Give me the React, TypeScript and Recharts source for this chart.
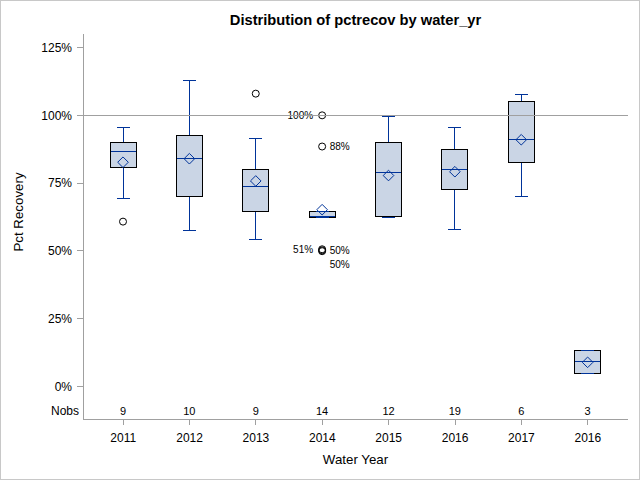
import React from 'react';
import { ComposedChart, Bar, XAxis, YAxis, ReferenceLine } from 'recharts';

// ---- data ----
const categories = ['2011', '2012', '2013', '2014', '2015', '2016', '2017', '2016'];
const nobs = [9, 10, 9, 14, 12, 19, 6, 3];
const whiskerLow = [69.3, 57.5, 54.2, 62.3, 62.3, 57.9, 70.0, 4.6];
const q1 = [80.7, 69.9, 64.5, 62.3, 62.7, 72.6, 82.5, 4.6];
const median = [86.6, 84.0, 73.7, 62.8, 79.0, 80.0, 91.0, 9.1];
const q3 = [89.9, 92.6, 80.0, 64.5, 89.9, 87.3, 105.0, 13.2];
const whiskerHigh = [95.4, 112.8, 91.4, 64.5, 99.6, 95.4, 107.6, 13.2];
const mean = [82.7, 84.0, 75.8, 65.2, 77.8, 79.2, 91.0, 8.9];
const outliers: number[][] = [[60.8], [], [108.0], [100.0, 88.5, 50.6, 50.2, 49.9], [], [], [], []];
const outlierLabels: string[][] = [[], [], [], ['100%', '88%', '51%', '50%', '50%'], [], [], [], []];
const yTicks = [0, 25, 50, 75, 100, 125];
const Y_MIN = -12;
const Y_MAX = 130;
const NOBS_Y = -9;
const REF_VALUE = 100;

const data = categories.map((c, i) => ({
  key: `c${i}`,
  label: c,
  nobs: nobs[i],
  low: whiskerLow[i],
  q1: q1[i],
  median: median[i],
  q3: q3[i],
  high: whiskerHigh[i],
  mean: mean[i],
  outliers: outliers[i],
  outlierLabels: outlierLabels[i],
}));

const FONT = '"Liberation Sans", Arial, sans-serif';
const FRAME = '#A0A0A0';
const BOX_FILL = '#CAD5E5';
const BLUE = '#003399';

// label placement rule for labelled outliers (collision avoidance like SAS)
const PLACEMENT = ['left', 'right', 'left', 'right', 'belowRight'];

const BoxShape = (props: any) => {
  const { x, y, width, height, payload } = props;
  const p = payload;
  const top = Math.min(y, y + height);
  const bottom = Math.max(y, y + height);
  const span = p.high - p.low;
  const ppu = span > 0 ? (bottom - top) / span : 0;
  const py = (v: number) => bottom - (v - p.low) * ppu;
  const cx = x + width / 2;
  const hw = width / 2;
  const cw = width / 4;
  const d = 5.3;
  const my = py(p.mean);
  return (
    <g>
      <line x1={cx} x2={cx} y1={py(p.q3)} y2={py(p.high)} stroke={BLUE} strokeWidth={1} shapeRendering="crispEdges" />
      <line x1={cx} x2={cx} y1={py(p.q1)} y2={py(p.low)} stroke={BLUE} strokeWidth={1} shapeRendering="crispEdges" />
      <rect x={cx - hw} y={py(p.q3)} width={width} height={py(p.q1) - py(p.q3)} fill={BOX_FILL} stroke="#000" strokeWidth={1} shapeRendering="crispEdges" />
      <line x1={cx - cw} x2={cx + cw} y1={py(p.high)} y2={py(p.high)} stroke={BLUE} strokeWidth={1} shapeRendering="crispEdges" />
      <line x1={cx - cw} x2={cx + cw} y1={py(p.low)} y2={py(p.low)} stroke={BLUE} strokeWidth={1} shapeRendering="crispEdges" />
      <line x1={cx - hw + 0.5} x2={cx + hw - 0.5} y1={py(p.median)} y2={py(p.median)} stroke={BLUE} strokeWidth={1} shapeRendering="crispEdges" />
      <path d={`M${cx},${my - d} L${cx + d},${my} L${cx},${my + d} L${cx - d},${my} Z`} fill="none" stroke={BLUE} strokeWidth={1} />
      {p.outliers.map((v: number, i: number) => (
        <circle key={`o${i}`} cx={cx} cy={py(v)} r={3.5} fill="none" stroke="#000" strokeWidth={1} />
      ))}
      {p.outlierLabels.map((t: string, i: number) => {
        const place = PLACEMENT[i] || 'right';
        const oy = py(p.outliers[i]);
        const left = place === 'left';
        const below = place === 'belowRight' ? 13 : 0;
        return (
          <text key={`l${i}`} x={left ? cx - 9 : cx + 7.5} y={oy + below} dy="0.35em" textAnchor={left ? 'end' : 'start'} fontSize={10} fontFamily={FONT} fill="#000">
            {t}
          </text>
        );
      })}
      <text x={cx} y={py(NOBS_Y)} dy="0.35em" textAnchor="middle" fontSize={11} fontFamily={FONT} fill="#000">
        {p.nobs}
      </text>
    </g>
  );
};

const YTick = (props: any) => {
  const { x, y, payload } = props;
  if (payload.value === NOBS_Y) {
    return (
      <text x={x + 7} y={y} dy="0.35em" textAnchor="end" fontSize={12} fontFamily={FONT} fill="#000">
        Nobs
      </text>
    );
  }
  return (
    <g>
      <line x1={x + 5} x2={x + 11} y1={y} y2={y} stroke={FRAME} shapeRendering="crispEdges" />
      <text x={x} y={y} dy="0.35em" textAnchor="end" fontSize={12} fontFamily={FONT} fill="#000">
        {`${payload.value}%`}
      </text>
    </g>
  );
};

const XTick = (props: any) => {
  const { x, y, payload } = props;
  const row = data.find((r) => r.key === payload.value);
  return (
    <text x={x} y={y} dy={14.7} textAnchor="middle" fontSize={12} fontFamily={FONT} fill="#000">
      {row ? row.label : ''}
    </text>
  );
};

export default function App() {
  return (
    <div style={{ position: 'absolute', left: 0, top: 0, width: 640, height: 480, background: '#fff' }}>
      <ComposedChart width={640} height={480} data={data} margin={{ top: 34, right: 12, bottom: 0, left: 0 }}>
        <XAxis
          dataKey="key"
          type="category"
          height={61}
          padding={{ left: 7, right: 7 }}
          interval={0}
          tick={<XTick />}
          tickLine={{ stroke: FRAME, shapeRendering: 'crispEdges' }}
          axisLine={{ stroke: FRAME, shapeRendering: 'crispEdges' }}
        />
        <XAxis xAxisId="top" orientation="top" dataKey="key" height={0} tick={false} tickLine={false} axisLine={{ stroke: FRAME, shapeRendering: 'crispEdges' }} padding={{ left: 7, right: 7 }} />
        <YAxis
          type="number"
          width={83}
          domain={[Y_MIN, Y_MAX]}
          allowDataOverflow
          ticks={[NOBS_Y, ...yTicks]}
          interval={0}
          tick={<YTick />}
          tickLine={false}
          tickMargin={5}
          axisLine={{ stroke: FRAME, shapeRendering: 'crispEdges' }}
        />
        <YAxis yAxisId="r" orientation="right" width={0} domain={[Y_MIN, Y_MAX]} tick={false} tickLine={false} axisLine={{ stroke: FRAME, shapeRendering: 'crispEdges' }} />
        <ReferenceLine y={REF_VALUE} stroke={FRAME} strokeWidth={1} shapeRendering="crispEdges" />
        <Bar dataKey={(d: any) => [d.low, d.high]} barSize={26} shape={<BoxShape />} isAnimationActive={false} />
      </ComposedChart>
      <svg width={640} height={480} style={{ position: 'absolute', left: 0, top: 0, pointerEvents: 'none' }}>
        <rect x={0.5} y={0.5} width={639} height={479} fill="none" stroke="#C8C8C8" shapeRendering="crispEdges" />
        <text x={355.5} y={25} textAnchor="middle" fontSize={14.7} fontWeight="bold" fontFamily={FONT} fill="#000">
          Distribution of pctrecov by water_yr
        </text>
        <text x={355.5} y={464} textAnchor="middle" fontSize={13.3} fontFamily={FONT} fill="#000">
          Water Year
        </text>
        <text x={23} y={212} textAnchor="middle" fontSize={13.3} fontFamily={FONT} fill="#000" transform="rotate(-90 23 212)">
          Pct Recovery
        </text>
      </svg>
    </div>
  );
}
